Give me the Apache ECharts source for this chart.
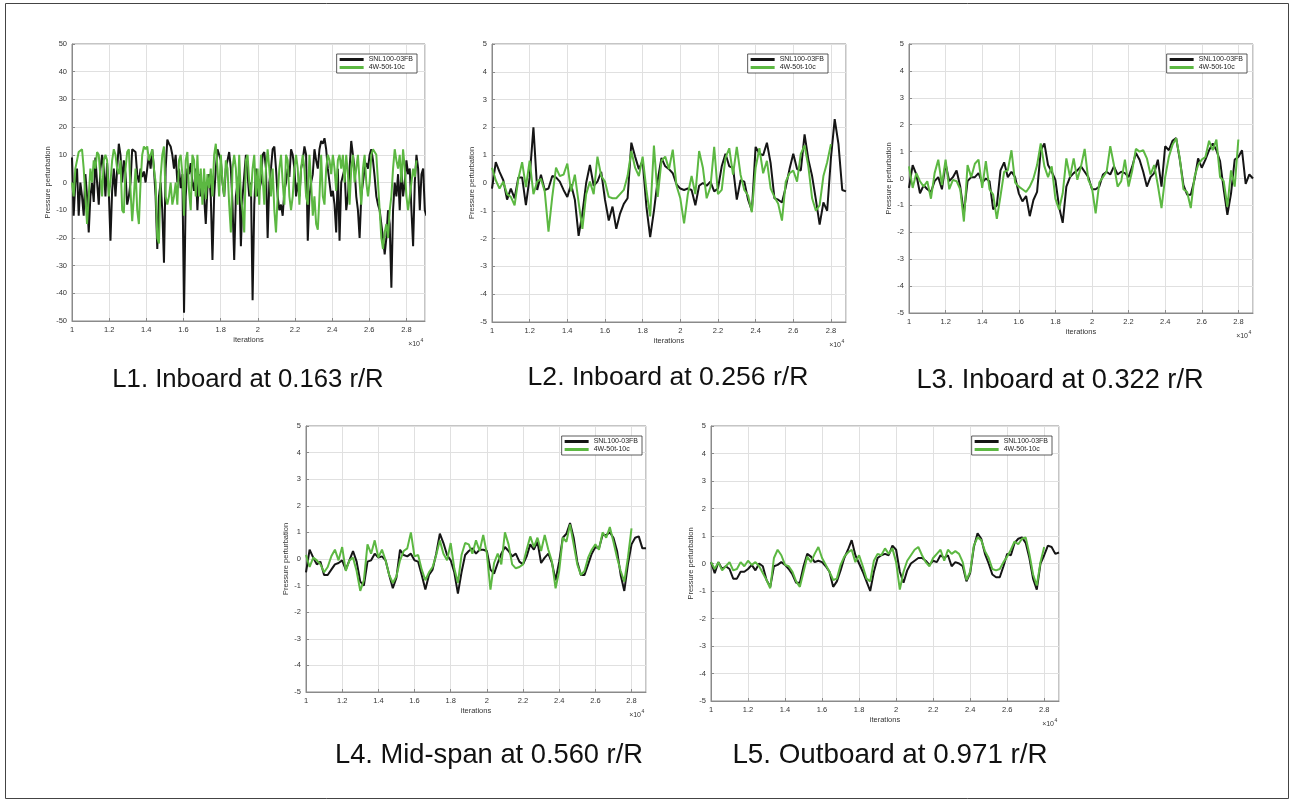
<!DOCTYPE html>
<html><head><meta charset="utf-8">
<script src="https://cdn.jsdelivr.net/npm/echarts@6/dist/echarts.min.js"></script>
<style>html,body{margin:0;padding:0;background:#fff}#c{width:1293px;height:802px}</style>
</head><body><div id="c"></div>
<script>
// ---------------- DATA ----------------
const seriesNames = ['SNL100-03FB', '4W-50t-10c'];
const panelTitles = ['L1. Inboard at 0.163 r/R', 'L2. Inboard at 0.256 r/R', 'L3. Inboard at 0.322 r/R',
                     'L4. Mid-span at 0.560 r/R', 'L5. Outboard at 0.971 r/R'];
const xAxisName = 'iterations';
const yAxisName = 'Pressure perturbation';
const xStart = 1.0;      // iterations, x10^4
const l1Step = 0.009;    // sample spacing (x10^4) of L1 traces
const step = 0.02;       // sample spacing (x10^4) of L2-L5 traces

const l1Black = [
 9,-12,0,5,-12,0,-5,-12,3,-5,
 -18,-5,0,-7,9,0,-8,5,10,5,
 -5,7,-3,-21,-3,5,-5,5,14,10,
 0,8,3,-8,-5,0,12,12,11,3,
 0,5,2,4,0,5,10,5,12,5,
 -5,-24,-5,0,-10,-29,5,15.5,14,13,
 10,5,10,0,5,-2,3,-47,-5,5,
 3,7,0,-3,5,-10,3,-5,0,-5,
 -15,-2,3,-5,-28,-5,5,12,10,8,
 0,-5,5,8,11,5,-8,-28,-5,0,
 3,-23,-5,-5,10,3,-5,0,-42.5,-8,
 5,-5,-5,0,10,11,5,-20,0,5,
 12,13,5,-5,-10,-8,-12,-3,0,5,
 2,12,10,5,-5,0,-5,5,8,13,
 10,-21,-5,0,3,12,8,5,12,15,
 14,16,12,5,0,-5,-3,-8,-18,5,
 -21,0,0,5,-10,-5,5,15,10,5,
 -5,-10,-20,-5,0,5,7,5,10,12,
 8,2,-5,-8,-10,-15,-20,-26,-20,-10,
 -15,-38,-10,0,-5,3,-10,5,-5,0,
 8,3,5,-10,-23,0,10,5,-10,3,
 5,-10,-12
];
const l1Green = [
 0,-5,5,8,11,11,12,5,-5,-15,
 -5,5,0,8,5,11,10,2,-5,8,
 10,8,-5,0,8,12,10,5,3,8,
 -10,-11,5,11,12,-3,-14,-5,5,-10,
 -15,0,10,13,12,13,8,10,12,5,
 0,-20,-22,2,10,13,-5,-8,-5,0,
 -8,-5,0,-8,8,10,3,-12,8,11,
 -3,-10,10,8,-5,10,-5,5,-8,5,
 -6,3,-2,5,-5,10,14,5,-5,10,
 0,-5,8,5,-8,-18,5,10,5,-8,
 10,-5,-10,-18,8,10,0,-5,5,10,
 -5,5,-8,10,2,-8,5,12,5,-5,
 5,-10,-18,-5,5,10,0,-8,10,8,
 -5,-10,-5,5,10,5,-8,5,10,5,
 -5,-8,10,0,-12,-5,-15,-17,-5,10,
 -5,-8,5,10,8,3,10,5,-3,8,
 10,5,10,0,10,3,-8,5,10,0,
 5,10,0,-8,5,10,0,-5,0,10,
 12,12,10,0,-10,-20,-24,-18,-15,-20,
 -10,-5,5,12,8,5,10,0,12,5,
 -5,-10,-5,0,5,2,8
];
const l2Black = [
 -0.2,0.75,0.4,0.1,-0.6,-0.2,-0.55,0.2,0.2,-0.8,
 0.2,2.0,-0.25,0.3,-0.25,-0.2,0.25,0.2,0.05,-0.25,
 -0.5,-0.05,-0.6,-1.9,-1.1,0,0.65,-0.1,0.05,0.4,
 -0.6,-1.35,-0.85,-1.65,-1.1,-0.75,-0.55,1.45,0.95,0.5,
 0.8,-0.85,-1.95,-1.0,0.1,0.9,0.6,0.5,0.35,-0.05,
 -0.2,-0.25,-0.2,-0.25,-0.8,-0.1,0,-0.1,0.05,-0.3,
 -0.2,0.6,1.05,0.6,0.55,-0.6,0.1,0.05,-0.6,-1.0,
 1.3,1.05,1.0,1.45,0.7,-0.55,-0.6,-0.7,-0.15,0.5,
 1.05,0.5,0.45,1.75,0.85,0.25,-0.6,-1.5,-0.7,-1.0,
 0.9,2.3,1.4,-0.25,-0.3
];
const l2Green = [
 0.55,0.1,-0.2,0.05,-0.4,-0.5,-0.8,0.15,0.75,-0.15,
 0.8,-0.4,0.05,0.15,-0.3,-1.75,-0.5,0.55,0.25,0.3,
 0.7,-0.3,0.3,-0.7,-1.65,-0.4,0.05,-0.4,0.95,0.25,
 0.05,-0.5,-0.55,-0.55,-0.4,-0.25,0.25,1.15,0.55,0.25,
 0.95,-0.25,-1.2,1.35,-0.5,0.8,0.95,0.5,1.2,-0.1,
 -0.55,-1.45,-0.4,0.25,-0.4,1.15,0.55,-0.55,-0.15,1.3,
 -0.4,-0.25,0.9,1.25,0.3,1.3,0.3,-0.25,-0.45,-1.05,
 0.55,1.25,0.35,0.8,-0.2,-0.5,-0.75,-1.35,0.05,0.35,
 0.45,0.05,1.05,1.35,0.6,-0.55,-1.0,-0.8,0.25,0.75,
 1.4
];
const l3Black = [
 -0.35,0.5,0.15,-0.55,-0.25,-0.4,-0.5,-0.1,0.05,-0.4,
 0.55,-0.1,0.05,0.3,-0.3,-1.3,-0.1,0.05,0.05,0.2,
 -0.15,0,-0.1,-1.15,-1.0,0.3,0.6,0.05,0.25,0.05,
 -0.55,-0.85,-0.65,-1.4,-0.8,-0.5,1.05,1.3,0.5,0.25,
 -0.05,-1.05,-1.65,-0.3,0.05,0.2,0.3,0.45,0.25,0.05,
 -0.4,-0.4,-0.3,0.15,0.25,0.15,0.45,0.15,0.25,0.2,
 0.05,0.45,0.95,0.7,0.25,-0.3,0.05,0.2,0.7,-0.3,
 1.2,1.05,1.4,1.5,0.7,-0.25,-0.6,-0.6,-0.05,0.75,
 0.4,0.7,1.05,1.3,1.05,0.65,-0.4,-1.35,-0.55,0.7,
 0.8,1.05,-0.2,0.15,0
];
const l3Green = [
 0.45,-0.35,0.2,-0.1,-0.3,-0.1,-0.75,0.2,0.7,-0.25,
 0.7,-0.4,-0.05,-0.1,-0.4,-1.6,0.5,0.05,0.55,0.7,
 -0.35,0.65,-0.4,-0.6,-1.5,-0.65,0.25,0.3,1.05,-0.15,
 -0.3,-0.4,-0.5,-0.3,0,0.5,1.3,0.45,0.05,0.45,
 -0.75,-1.15,-0.55,0.75,0.05,0.75,-0.05,0.45,1.1,-0.05,
 -0.35,-1.3,-0.15,0.05,0.25,1.2,0.5,-0.3,-0.1,0.7,
 -0.3,0.3,1.1,1.0,1.05,0.75,0.15,0.5,-0.25,-1.1,
 0.05,0.8,1.25,1.5,0.75,-0.4,-0.5,-1.1,0.05,0.5,
 0.7,0.8,1.4,1.05,1.45,0.05,-0.1,-1.05,0.3,-0.3,
 1.45
];
const l4Black = [
 -0.5,0.35,0.05,-0.2,-0.1,-0.6,-0.6,-0.4,-0.2,-0.15,
 -0.05,-0.4,-0.05,0.3,-0.1,-0.85,-1.0,-0.1,-0.05,0.2,
 0.05,0.1,-0.05,-0.6,-1.1,-0.7,0.35,0.15,0.1,0.2,
 -0.05,-0.1,-0.6,-1.15,-0.6,-0.4,0.2,0.95,0.6,0.15,
 -0.05,-0.5,-1.3,-0.5,0.15,0.3,0.4,0.2,0.35,0.35,
 0.3,-0.4,-0.55,-0.15,0.2,0.45,0.3,0.1,0.2,-0.1,
 -0.2,0.1,0.55,0.35,0.65,-0.15,0.05,0.2,-0.15,-0.8,
 -0.1,0.8,0.95,1.35,0.8,-0.1,-0.6,-0.6,-0.2,0.2,
 0.45,0.4,0.9,0.9,1.0,0.8,0.3,-0.6,-1.2,-0.2,
 0.55,0.8,0.85,0.4,0.4
];
const l4Green = [
 0.15,-0.3,0.05,-0.05,-0.2,-0.5,-0.3,0.1,0.35,-0.05,
 0.45,-0.45,-0.05,0.05,-0.45,-1.2,-0.8,0.55,0.2,0.7,
 0.05,0.35,-0.05,-0.6,-0.9,-0.65,-0.05,0.3,0.4,1.0,
 0.1,0.15,-0.4,-0.8,-0.5,-0.3,0.15,0.7,0.2,-0.05,
 0.6,-0.35,-0.9,0.15,0.6,0.55,0.2,0.7,0.3,0.9,
 0.2,-1.15,-0.15,0.2,-0.2,1.0,0.55,-0.2,-0.35,-0.3,
 -0.2,0.35,0.85,0.45,0.8,0.3,0.9,0.35,-0.1,-1.1,
 -0.45,0.8,0.65,1.3,0.55,-0.2,-0.6,-0.45,0.05,0.35,
 0.55,0.35,1.0,0.8,1.2,0.65,0.05,-0.45,-0.85,0.05,
 1.15
];
const l5Black = [
 0.05,-0.35,0.05,-0.2,-0.1,-0.2,-0.55,-0.55,-0.3,-0.3,
 -0.2,-0.05,-0.25,0,-0.1,-0.6,-0.85,-0.1,-0.05,0.05,
 -0.05,-0.2,-0.4,-0.7,-0.7,-0.1,0.35,0.25,0.05,0.1,
 0.05,-0.1,-0.3,-0.85,-0.65,-0.25,0.2,0.5,0.85,0.3,
 0,-0.3,-0.65,-1.0,-0.3,0.2,0.3,0.35,0.3,0.65,
 0.5,-0.3,-0.7,-0.25,0,0.1,0.2,0.2,0.1,-0.05,
 0.1,0.05,0.3,0.2,0.3,-0.1,0.05,0,-0.1,-0.65,
 -0.35,0.6,1.1,0.9,0.35,0,-0.4,-0.5,-0.5,-0.1,
 0.35,0.3,0.75,0.9,0.95,0.75,0.2,-0.55,-0.95,0,
 0.3,0.65,0.6,0.35,0.4
];
const l5Green = [
 0.05,-0.2,0.05,-0.25,-0.1,0.05,-0.25,-0.2,0.05,-0.1,
 0.1,-0.05,0.05,-0.1,-0.35,-0.6,-0.9,0.2,0.5,0.3,
 -0.05,-0.1,-0.3,-0.65,-0.85,-0.3,0.25,0.05,0.35,0.6,
 0.2,-0.05,-0.3,-0.6,-0.55,-0.05,0.25,0.4,0.5,0.05,
 0.3,-0.1,-0.55,-0.65,0.1,0.35,0.3,0.55,0.35,0.55,
 0.05,-0.95,-0.3,0.1,0.3,0.5,0.6,0.3,0.05,-0.1,
 0.2,0.35,0.5,0.1,0.5,0.35,0.45,0.35,0.05,-0.6,
 -0.3,0.65,0.95,0.85,0.45,0.2,-0.2,-0.25,-0.2,0.05,
 0.25,0.5,0.8,0.7,0.9,0.95,0.35,-0.4,-0.8,0.05,
 0.6
];

// ---------------- LAYOUT ----------------
const W = 1293;
const panels = [
  {black:l1Black, green:l1Green, step:l1Step, xMax:2.9,  yMin:-50, yMax:50, yInt:10,
   g:{left:72, top:44, width:353, height:277}, legInset:8,  yGap:20, title:[248,380], tSize:25.7},
  {black:l2Black, green:l2Green, step:step, xMax:2.88, yMin:-5, yMax:5, yInt:1,
   g:{left:492, top:44, width:354, height:278}, legInset:18, yGap:15, title:[668,378], tSize:26.6},
  {black:l3Black, green:l3Green, step:step, xMax:2.88, yMin:-5, yMax:5, yInt:1,
   g:{left:909, top:44, width:344, height:269}, legInset:6,  yGap:15, title:[1060,381], tSize:27.2},
  {black:l4Black, green:l4Green, step:step, xMax:2.88, yMin:-5, yMax:5, yInt:1,
   g:{left:306, top:426, width:340, height:266}, legInset:4,  yGap:14, title:[489,755], tSize:27.3},
  {black:l5Black, green:l5Green, step:step, xMax:2.88, yMin:-5, yMax:5, yInt:1,
   g:{left:711, top:426, width:348, height:275}, legInset:7,  yGap:14, title:[890,755], tSize:27.8}
];
const colors = ['#151515', '#5cb842'];
const axisCol = '#8a8a8a';
const txtCol = '#333';
const font = '"Liberation Sans", Arial, sans-serif';

function xLabel(v) {
  const r = Math.round(v * 10) / 10;
  if (Math.abs(r - v) > 1e-6 || Math.abs(Math.round(r * 5) - r * 5) > 1e-6) return '';
  return String(r);
}

const grid = [], xAxis = [], yAxis = [], series = [], legend = [], graphic = [];
panels.forEach((p, i) => {
  grid.push(Object.assign({show:true, borderColor:axisCol, borderWidth:1, backgroundColor:'#fff'}, p.g));
  xAxis.push({
    type:'value', gridIndex:i, min:xStart, max:p.xMax, interval:0.2,
    axisLine:{show:true, onZero:false, lineStyle:{color:axisCol}},
    axisTick:{show:true, inside:true, length:3, lineStyle:{color:axisCol}},
    splitLine:{show:true, lineStyle:{color:'#e0e0e0', width:1}},
    axisLabel:{fontSize:7.5, color:txtCol, margin:5, fontFamily:font, showMaxLabel:false, formatter:xLabel},
    name:xAxisName, nameLocation:'middle', nameGap:15,
    nameTextStyle:{fontSize:7.5, color:txtCol, fontFamily:font}
  });
  yAxis.push({
    type:'value', gridIndex:i, min:p.yMin, max:p.yMax, interval:p.yInt,
    axisLine:{show:true, onZero:false, lineStyle:{color:axisCol}},
    axisTick:{show:true, inside:true, length:3, lineStyle:{color:axisCol}},
    splitLine:{show:true, lineStyle:{color:'#e0e0e0', width:1}},
    axisLabel:{fontSize:7.5, color:txtCol, margin:5, fontFamily:font},
    name:yAxisName, nameLocation:'middle', nameGap:p.yGap,
    nameTextStyle:{fontSize:7.5, color:txtCol, fontFamily:font}
  });
  [p.black, p.green].forEach((arr, s) => {
    series.push({
      type:'line', name:seriesNames[s], xAxisIndex:i, yAxisIndex:i,
      data: arr.map((v, k) => [xStart + k * p.step, v]),
      showSymbol:false, symbol:'none', clip:true, animation:false,
      lineStyle:{width:2, color:colors[s]}, itemStyle:{color:colors[s]}, z:2 + s
    });
  });
  const gr = p.g.left + p.g.width, gb = p.g.top + p.g.height;
  legend.push({
    show:true, data:seriesNames, selectedMode:false, orient:'vertical',
    right: W - gr + p.legInset, top: p.g.top + 10,
    icon:'rect', itemWidth:24, itemHeight:3, itemGap:1, padding:[2,4,2,3],
    borderColor:'#333', borderWidth:0.8, backgroundColor:'#fff',
    textStyle:{fontSize:7, color:'#222', fontFamily:font}
  });
  graphic.push({type:'text', x:gr - 5, y:gb + 23, z:10,
    style:{text:'×10', font:'7px ' + font, fill:txtCol, align:'right', textAlign:'right', verticalAlign:'middle', textVerticalAlign:'middle'}});
  graphic.push({type:'text', x:gr - 4.5, y:gb + 20, z:10,
    style:{text:'4', font:'5px ' + font, fill:txtCol, align:'left', textAlign:'left', verticalAlign:'middle', textVerticalAlign:'middle'}});
  graphic.push({type:'text', x:p.title[0], y:p.title[1], z:10,
    style:{text:panelTitles[i], font:p.tSize + 'px ' + font, fill:'#111', align:'center', textAlign:'center', verticalAlign:'middle', textVerticalAlign:'middle'}});
});
graphic.push({type:'rect', shape:{x:5.5, y:3.5, width:1283, height:795}, z:0,
  style:{fill:'none', stroke:'#444', lineWidth:1}});

const chart = echarts.init(document.getElementById('c'), null, {renderer:'canvas'});
chart.setOption({
  backgroundColor:'#fff', animation:false,
  grid, xAxis, yAxis, series, legend, graphic, tooltip:{show:false}
});
</script></body></html>
